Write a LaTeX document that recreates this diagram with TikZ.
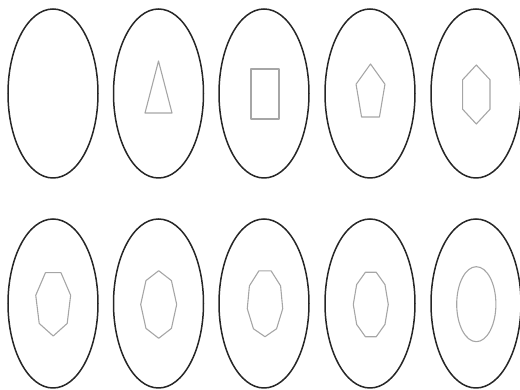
\documentclass[tikz,border=0pt]{standalone}
\usepackage{tikz}
\tikzset{
  outerln/.style={line width=1.5pt, black!85},
  polyln/.style={line width=1.1pt, gray!70, line join=round},
}
% #1 centre, #2 corners, #3 x radius, #4 y radius, #5 start angle
\newcommand{\ngonat}[5]{%
  \draw[polyln, shift={#1}] (#5:#3 and #4)
    \foreach \k in {1,...,\numexpr#2-1\relax} { -- ({#5+\k*360/#2}:#3 and #4) } -- cycle;
}

\begin{document}
\begin{tikzpicture}[x=1pt, y=1pt]
    \useasboundingbox (0,0) rectangle (520,390);
    % outer ovals, two rows of five
    \foreach \cx [count=\i] in {53,158.5,264,370,476} {
      \draw[outerln] (\cx,296.5) ellipse (45 and 84.5);
      \draw[outerln] (\cx,86.5) ellipse (45 and 84.5);
    }
    % top row: empty, 3, 4, 5, 6 corners
    \ngonat{(158.5,294.3)}{3}{15.6}{34.7}{90}
    \draw[polyln] (251,321) rectangle (279,271);
    \ngonat{(370.5,296.7)}{5}{15.2}{29.3}{90}
    \ngonat{(476.3,295.5)}{6}{15.8}{29.5}{90}
    % bottom row: 7, 8, 9, 10 corners, then the round one
    \ngonat{(53.2,87.3)}{7}{17.9}{33.3}{-90}
    \ngonat{(158.7,85.5)}{8}{18}{33.8}{90}
    \ngonat{(265,87.2)}{9}{18}{33.9}{-90}
    \ngonat{(370.8,85.5)}{10}{17.5}{33.9}{0}
    \draw[polyln] (476.3,85.8) ellipse (19.6 and 37.5);
  \end{tikzpicture}
\end{document}
